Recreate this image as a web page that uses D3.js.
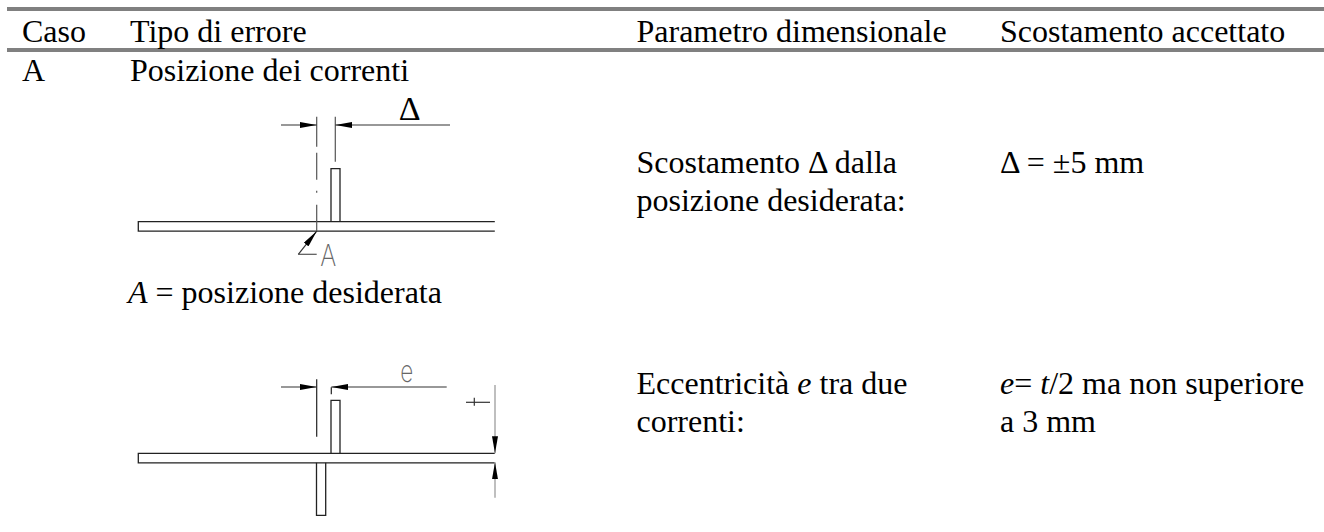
<!DOCTYPE html>
<html>
<head>
<meta charset="utf-8">
<script src="https://cdn.jsdelivr.net/npm/d3@7"></script>
<style>
  html, body { margin: 0; padding: 0; background: #fff; }
  text { font-family: "Liberation Serif", serif; font-size: 32px; fill: #000; white-space: pre; }
</style>
</head>
<body>
<div id="chart"></div>
<script>
const columns = ["Caso", "Tipo di errore", "Parametro dimensionale", "Scostamento accettato"];
const caseLabels = ["A"];
const errorTypes = ["Posizione dei correnti"];
const firstNote = [["A", true], [" = posizione desiderata", false]];
const firstParameter = ["Scostamento Δ dalla", "posizione desiderata:"];
const firstTolerance = ["Δ = ±5 mm"];
const secondParameter = [[["Eccentricità ", false], ["e", true], [" tra due", false]], [["correnti:", false]]];
const secondTolerance = [[["e", true], ["= ", false], ["t", true], ["/2 ma non superiore", false]], [["a 3 mm", false]]];

// drawing geometry, in px of the original drawing, measured from the flange's top left corner
const flangeSpan = [0, 356.5];
const flangeThickness = [0, 9.5];
const stiffenerSpan = [192.7, 201.7];
const stiffenerHeight = [-53, 0];
const lowerStiffenerSpan = [178.2, 187.4];
const lowerStiffenerDepth = [9.5, 62];

const width = 1324, height = 532;
const svg = d3.select("#chart").append("svg")
    .attr("width", width)
    .attr("height", height)
    .style("display", "block");

const colX = d3.scaleOrdinal().domain(columns).range([22, 130, 636.5, 1000]);
const rowY = d3.scaleOrdinal().domain(["head", "a", "a1", "a2", "note", "b1", "b2"]).range([41.7, 81, 173.3, 211, 303.3, 394.3, 431.7]);

// rules
const ruleX = d3.scaleLinear().domain([0, 1]).range([7, 1324]);
svg.selectAll("line.rule").data([9, 50]).join("line")
    .attr("class", "rule")
    .attr("x1", ruleX(0)).attr("x2", ruleX(1))
    .attr("y1", d => d).attr("y2", d => d)
    .attr("stroke", "#808080").attr("stroke-width", 4);

svg.selectAll("text.head").data(columns).join("text")
    .attr("class", "head")
    .attr("x", d => colX(d))
    .attr("y", rowY("head"))
    .text(d => d);

// parts are [string, italic] pairs
function addText(x, y, parts) {
    const t = svg.append("text").attr("x", x).attr("y", y);
    parts.forEach(p => {
        t.append("tspan")
            .attr("font-style", p[1] ? "italic" : "normal")
            .text(p[0]);
    });
    return t;
}

addText(colX(columns[0]), rowY("a"), [[caseLabels[0], false]]);
addText(colX(columns[1]), rowY("a"), [[errorTypes[0], false]]);
addText(128, rowY("note"), firstNote);
addText(colX(columns[2]), rowY("a1"), [[firstParameter[0], false]]);
addText(colX(columns[2]), rowY("a2"), [[firstParameter[1], false]]);
addText(colX(columns[3]), rowY("a1"), [[firstTolerance[0], false]]);
addText(colX(columns[2]), rowY("b1"), secondParameter[0]);
addText(colX(columns[2]), rowY("b2"), secondParameter[1]);
addText(colX(columns[3]), rowY("b1"), secondTolerance[0]);
addText(colX(columns[3]), rowY("b2"), secondTolerance[1]);

// arrowhead, the tip sits on the end of the line
const defs = svg.append("defs");
defs.append("marker")
    .attr("id", "head")
    .attr("viewBox", "0 0 17 6")
    .attr("refX", 17).attr("refY", 3)
    .attr("markerWidth", 17).attr("markerHeight", 6)
    .attr("markerUnits", "userSpaceOnUse")
    .attr("orient", "auto")
    .append("path").attr("d", "M0,0L17,3L0,6Z").attr("fill", "#000");

function scalesFor(originY) {
    const x = d3.scaleLinear().domain([0, 356.5]).range([138.3, 494.8]);
    const y = d3.scaleLinear().domain([0, 100]).range([originY, originY + 100]);
    return { x, y };
}

function seg(x, y, a, b, opts = {}) {
    return svg.append("path")
        .attr("d", d3.line().x(d => x(d[0])).y(d => y(d[1]))([a, b]))
        .attr("fill", "none")
        .attr("stroke", opts.stroke || "#333")
        .attr("stroke-width", opts.width || 1.2)
        .attr("marker-end", opts.arrow ? "url(#head)" : null);
}

function flange(x, y) {
    const line = d3.line().x(d => x(d[0])).y(d => y(d[1]));
    svg.append("path")
        .attr("d", line([[flangeSpan[1], flangeThickness[0]], [flangeSpan[0], flangeThickness[0]], [flangeSpan[0], flangeThickness[1]], [flangeSpan[1], flangeThickness[1]]]))
        .attr("fill", "none").attr("stroke", "#222").attr("stroke-width", 1.3);
}

function stiffener(x, y, span, ext) {
    const line = d3.line().x(d => x(d[0])).y(d => y(d[1]));
    svg.append("path")
        .attr("d", line([[span[0], ext[1]], [span[0], ext[0]], [span[1], ext[0]], [span[1], ext[1]]]))
        .attr("fill", "none").attr("stroke", "#222").attr("stroke-width", 1.3);
}

// thin CAD lettering, squeezed to the width it has in the drawing
function drawingLabel(x, y, s, w) {
    svg.append("text").attr("x", x).attr("y", y)
        .attr("textLength", w)
        .attr("lengthAdjust", "spacingAndGlyphs")
        .style("font-family", "Inter, 'Liberation Sans', sans-serif")
        .style("font-weight", 200)
        .style("font-size", "30px")
        .style("fill", "#666").text(s);
}

// detail A
const a = scalesFor(221.7);
flange(a.x, a.y);
stiffener(a.x, a.y, stiffenerSpan, stiffenerHeight);
seg(a.x, a.y, [178.4, -105], [178.4, -75], { stroke: "#555" });
seg(a.x, a.y, [178.4, -69], [178.4, -42], { stroke: "#555" });
seg(a.x, a.y, [178.4, -31], [178.4, -29], { stroke: "#555" });
seg(a.x, a.y, [178.4, -17], [178.4, 9.5], { stroke: "#555" });
seg(a.x, a.y, [197, -105], [197, -60], { stroke: "#555" });
seg(a.x, a.y, [142.7, -96.7], [178.4, -96.7], { arrow: true });
seg(a.x, a.y, [311.7, -96.7], [197, -96.7], { arrow: true });
seg(a.x, a.y, [178.4, 32.6], [160, 32.6], { stroke: "#555" });
seg(a.x, a.y, [160, 32.6], [178.4, 9.5], { arrow: true });

svg.append("text").attr("x", a.x(260.5)).attr("y", a.y(-101.7))
    .style("font-size", "34px").text("Δ");
drawingLabel(a.x(182), a.y(44), "A", 16);

// detail B
const b = scalesFor(453.3);
flange(b.x, b.y);
stiffener(b.x, b.y, stiffenerSpan, stiffenerHeight);
stiffener(b.x, b.y, lowerStiffenerSpan, [lowerStiffenerDepth[1], lowerStiffenerDepth[0]]);
seg(b.x, b.y, [178.4, -74], [178.4, -16.5], { stroke: "#222" });
seg(b.x, b.y, [193, -66], [193, -59], { stroke: "#222" });
seg(b.x, b.y, [142.7, -66.3], [178.4, -66.3], { arrow: true });
seg(b.x, b.y, [308.4, -66.3], [193, -66.3], { arrow: true });
seg(b.x, b.y, [356.7, -68.3], [356.7, 0], { stroke: "#aaa", width: 1.5, arrow: true });
seg(b.x, b.y, [356.7, 44.4], [356.7, 9], { stroke: "#aaa", width: 1.5, arrow: true });
seg(b.x, b.y, [327.7, -51], [351.7, -51], { stroke: "#333" });
seg(b.x, b.y, [336, -55.6], [336, -47.6], { stroke: "#333" });

drawingLabel(b.x(262), b.y(-71.6), "e", 13);
</script>
</body>
</html>
